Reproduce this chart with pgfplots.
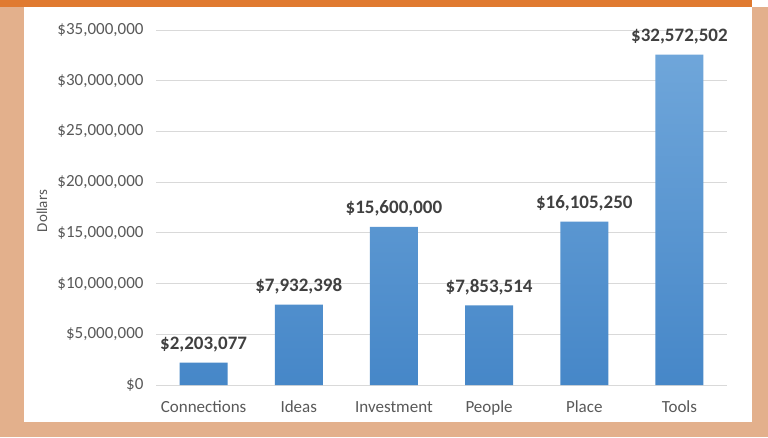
\documentclass[border=0pt]{standalone}
\usepackage{pgfplots}
\pgfplotsset{compat=1.18}
\usepackage{fontspec}
\setmainfont{Carlito}

\definecolor{tan}{HTML}{E3B08C}
\definecolor{topbar}{HTML}{E07A30}
\definecolor{ticktext}{HTML}{595959}
\definecolor{labeltext}{HTML}{404040}
\definecolor{gridgray}{HTML}{D9D9D9}
\definecolor{bartop}{HTML}{6FA6DA}
\definecolor{barbottom}{HTML}{4687C8}

\begin{document}
\begin{tikzpicture}[x=1pt,y=1pt]
% frame around the chart
\fill[tan] (0,0) rectangle (768,437);
\fill[white] (24,15) rectangle (752,430);
\fill[white] (752,430) rectangle (768,437);
\fill[topbar] (0,430) rectangle (752,437);

\node[rotate=90, text=ticktext, font=\fontsize{15}{17}\selectfont] at (42,226) {Dollars};

\begin{axis}[
    at={(156pt,52pt)}, anchor=south west,
    scale only axis,
    width=571pt, height=355pt,
    xmin=-0.5, xmax=5.5,
    ymin=0, ymax=35000000,
    scaled y ticks=false,
    clip=false,
    axis x line*=bottom,
    axis y line*=left,
    y axis line style={draw=none},
    x axis line style={draw=gridgray, line width=1pt},
    major tick length=0pt,
    ymajorgrids,
    grid style={gridgray, line width=0.8pt},
    xtick=data,
    xticklabels={Connections,Ideas,Investment,People,Place,Tools},
    ytick={0,5000000,10000000,15000000,20000000,25000000,30000000,35000000},
    yticklabels={{\$0},{\$5,000,000},{\$10,000,000},{\$15,000,000},{\$20,000,000},{\$25,000,000},{\$30,000,000},{\$35,000,000}},
    ticklabel style={text=ticktext, font=\fontsize{17}{19}\selectfont},
    yticklabel style={xshift=-9pt},
    xticklabel style={anchor=base, yshift=-27pt},
    ybar, bar width=48pt,
    point meta=explicit symbolic,
    nodes near coords,
    nodes near coords style={anchor=south, text=labeltext, font=\fontsize{19}{21}\selectfont\bfseries, yshift=7pt},
]
\addplot[draw=none, top color=bartop, bottom color=barbottom] coordinates {
    (0,2203077)  [\$2,203,077]
    (1,7932398)  [\$7,932,398]
    (2,15600000) [\$15,600,000]
    (3,7853514)  [\$7,853,514]
    (4,16105250) [\$16,105,250]
    (5,32572502) [\$32,572,502]
};
\end{axis}
\useasboundingbox (0,0) rectangle (768,437);
\end{tikzpicture}
\end{document}
